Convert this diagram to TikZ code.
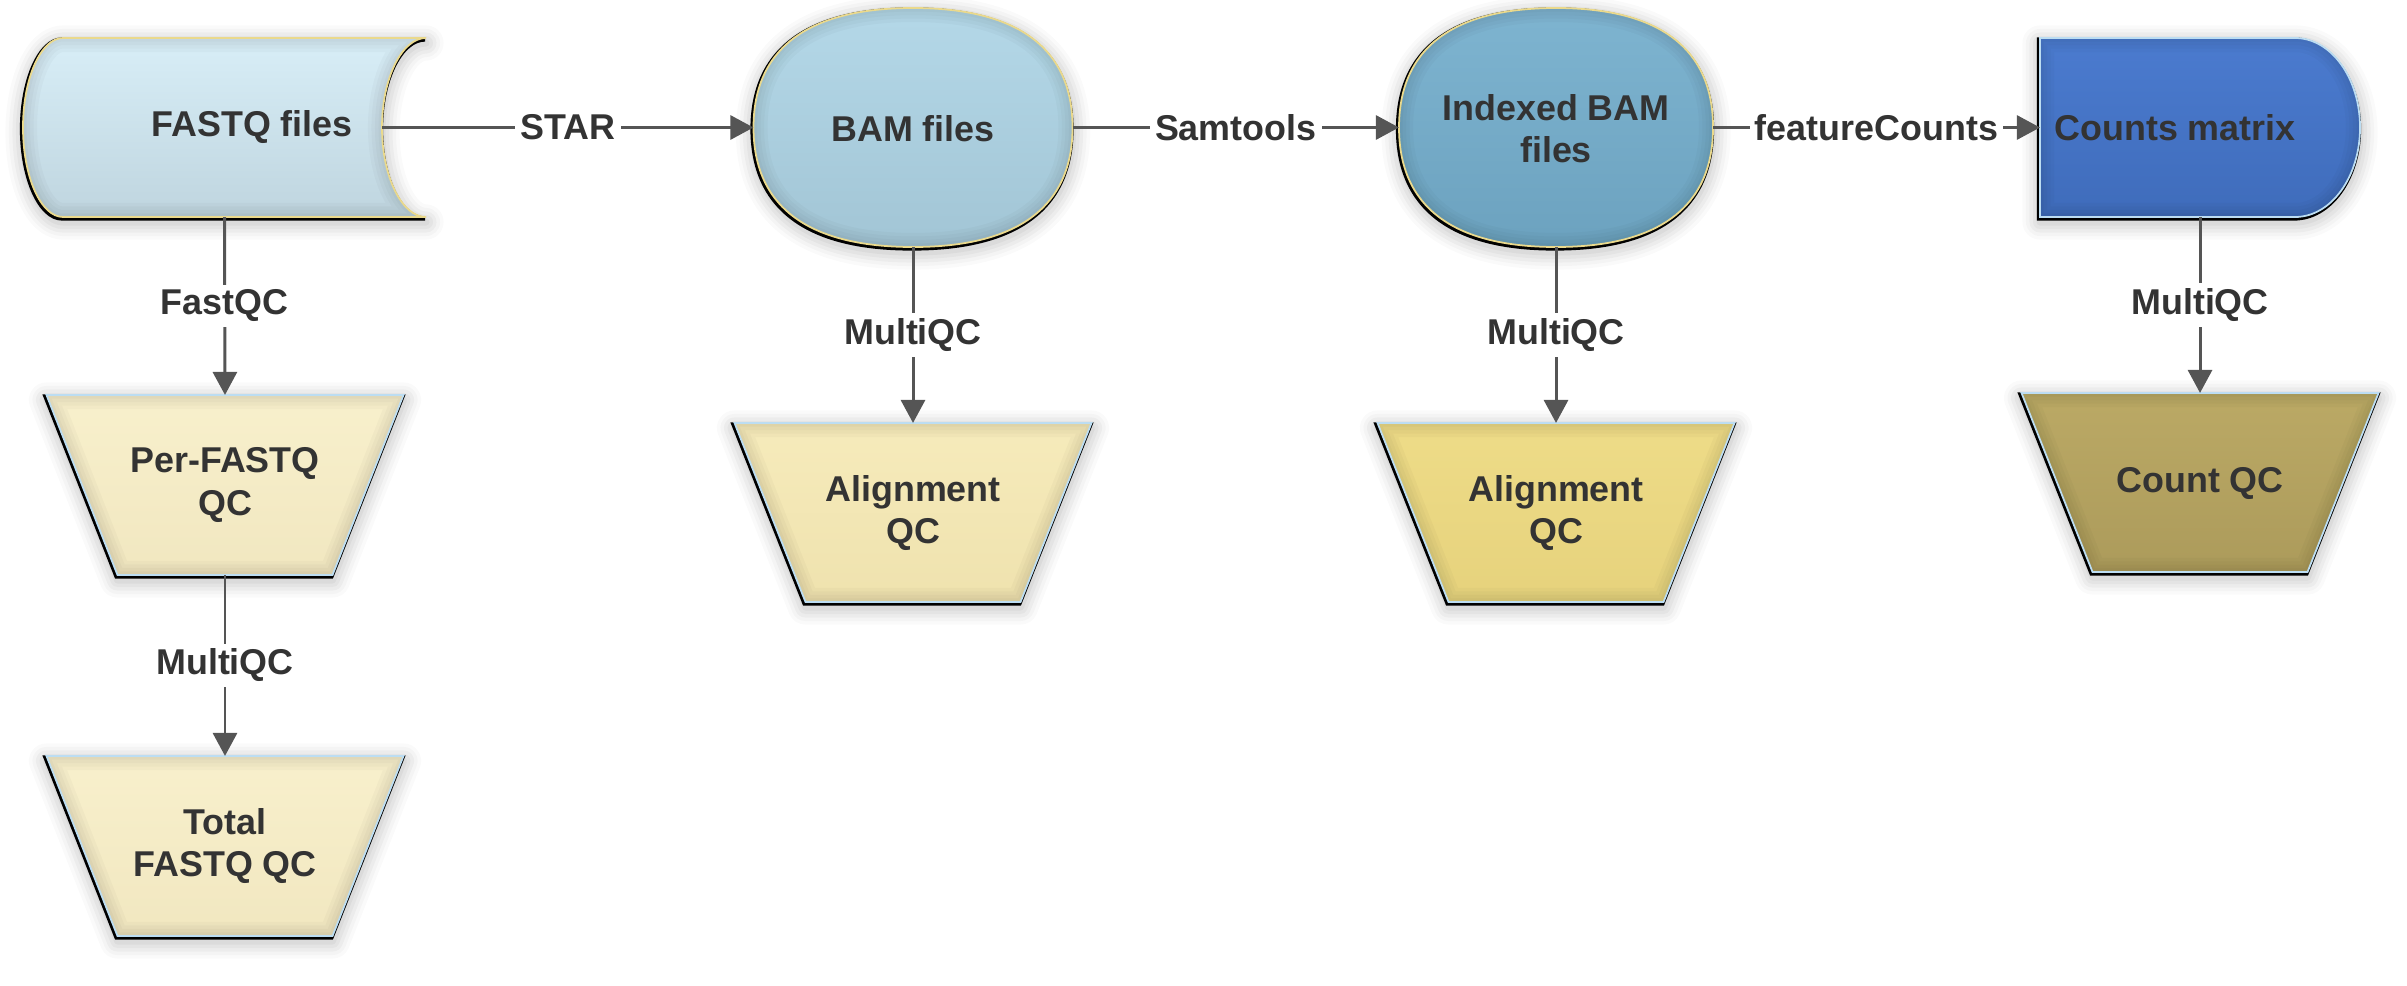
\documentclass[tikz,border=0pt]{standalone}
\usepackage{fontspec}
\setmainfont{Liberation Sans}
\usetikzlibrary{arrows.meta,shapes.geometric}
\definecolor{textC}{HTML}{333333}
\definecolor{lineC}{HTML}{555555}
\definecolor{fqTop}{HTML}{D8EEF7}
\definecolor{fqBot}{HTML}{BFD5DF}
\definecolor{bamTop}{HTML}{B4D8E8}
\definecolor{bamBot}{HTML}{A2C5D5}
\definecolor{idxTop}{HTML}{7EB4D0}
\definecolor{idxBot}{HTML}{6CA2BF}
\definecolor{cntTop}{HTML}{4B7BCF}
\definecolor{cntBot}{HTML}{3F6CBB}
\definecolor{pfqTop}{HTML}{F8F0CC}
\definecolor{pfqBot}{HTML}{F1E7C0}
\definecolor{al1Top}{HTML}{F6EBBB}
\definecolor{al1Bot}{HTML}{EFE2AE}
\definecolor{al2Top}{HTML}{EEDC88}
\definecolor{al2Bot}{HTML}{E6D27C}
\definecolor{cqTop}{HTML}{BBA965}
\definecolor{cqBot}{HTML}{AC9B5B}
\definecolor{yelEdge}{HTML}{EAD98C}
\definecolor{bluEdge}{HTML}{BCDDF2}

% #1 top colour, #2 bottom colour, #3 light edge colour, #4 path
\newcommand{\decoshape}[4]{%
  \foreach \w/\o in {10/0.02,8/0.025,6/0.03,4/0.035,2/0.04}{%
    \draw[line width=\w pt, black, opacity=\o, line join=round, yshift=-0.05cm] #4;}%
  \draw[line width=1.2pt, black, xshift=-0.01cm, yshift=-0.015cm] #4;
  \fill[top color=#1, bottom color=#2] #4;
  \begin{scope}
    \clip #4;
    \foreach \w in {8,6,4,2}{\draw[line width=\w pt, black, opacity=0.025] #4;}
  \end{scope}
  \draw[line width=0.5pt, #3] #4;
}

\tikzset{
  txt/.style={font=\fontsize{10.2}{12}\selectfont\bfseries, text=textC, align=center, inner sep=0pt},
  hold/.style={draw=none, inner sep=0pt, outer sep=0pt},
  lbl/.style={fill=white, font=\fontsize{10.2}{12}\selectfont\bfseries, text=textC, inner sep=1.5pt},
  conn/.style={draw=lineC, line width=0.85pt, -{Triangle[length=0.23cm,width=0.24cm]}},
}

\begin{document}
\begin{tikzpicture}[x=0.01cm, y=-0.01cm]
\useasboundingbox (0,0) rectangle (2407,985);

% ---- shapes (visuals)
\decoshape{fqTop}{fqBot}{yelEdge}{(63,38) -- (426,38) .. controls (402,38) and (382,78) .. (382,127.5) .. controls (382,177) and (402,217) .. (426,217) -- (63,217) .. controls (41,217) and (23,177) .. (23,127.5) .. controls (23,78) and (41,38) .. (63,38) -- cycle}
\decoshape{bamTop}{bamBot}{yelEdge}{(913,8) .. controls (1018.3,8) and (1072.5,48.6) .. (1072.5,127.5) .. controls (1072.5,206.4) and (1018.3,247) .. (913,247) .. controls (807.7,247) and (753.5,206.4) .. (753.5,127.5) .. controls (753.5,48.6) and (807.7,8) .. (913,8) -- cycle}
\decoshape{idxTop}{idxBot}{yelEdge}{(1556,8) .. controls (1659.6,8) and (1713,48.6) .. (1713,127.5) .. controls (1713,206.4) and (1659.6,247) .. (1556,247) .. controls (1452.4,247) and (1399,206.4) .. (1399,127.5) .. controls (1399,48.6) and (1452.4,8) .. (1556,8) -- cycle}
\decoshape{cntTop}{cntBot}{bluEdge}{(2040,38) -- (2295,38) .. controls (2331,38) and (2360,78) .. (2360,127.5) .. controls (2360,177) and (2331,217) .. (2295,217) -- (2040,217) -- cycle}
\decoshape{pfqTop}{pfqBot}{bluEdge}{(46.5,395) -- (403.5,395) -- (332.5,575) -- (117.5,575) -- cycle}
\decoshape{pfqTop}{pfqBot}{bluEdge}{(46.5,756) -- (403.5,756) -- (332.5,936) -- (117.5,936) -- cycle}
\decoshape{al1Top}{al1Bot}{bluEdge}{(734.5,423) -- (1091.5,423) -- (1020.5,602) -- (805.5,602) -- cycle}
\decoshape{al2Top}{al2Bot}{bluEdge}{(1377.5,423) -- (1734.5,423) -- (1663.5,602) -- (1448.5,602) -- cycle}
\decoshape{cqTop}{cqBot}{bluEdge}{(2021.5,393) -- (2378.5,393) -- (2307.5,572) -- (2092.5,572) -- cycle}

% ---- named holders
\node[hold, minimum width=4.03cm, minimum height=1.79cm] (fastq) at (224.5,127.5) {};
\node[hold, ellipse, minimum width=3.19cm, minimum height=2.39cm] (bam) at (913,127.5) {};
\node[hold, ellipse, minimum width=3.14cm, minimum height=2.39cm] (idx) at (1556,127.5) {};
\node[hold, minimum width=3.20cm, minimum height=1.79cm] (cnt) at (2200,127.5) {};
\node[hold, minimum width=3.57cm, minimum height=1.80cm] (pfq) at (225,485) {};
\node[hold, minimum width=3.57cm, minimum height=1.80cm] (tot) at (225,846) {};
\node[hold, minimum width=3.57cm, minimum height=1.79cm] (al1) at (913,512.5) {};
\node[hold, minimum width=3.57cm, minimum height=1.79cm] (al2) at (1556,512.5) {};
\node[hold, minimum width=3.57cm, minimum height=1.79cm] (cq) at (2200,482.5) {};

% ---- texts
\node[txt] (fastqT) at (252,127.5) {FASTQ files};
\node[txt] (bamT) at (913,129) {BAM files};
\node[txt] (idxT) at (1556,129) {Indexed BAM\\files};
\node[txt] (cntT) at (2175,127.5) {Counts matrix};
\node[txt] (pfqT) at (225,485) {Per-FASTQ\\QC};
\node[txt] (totT) at (225,846) {Total\\FASTQ QC};
\node[txt] (al1T) at (913,513) {Alignment\\QC};
\node[txt] (al2T) at (1556,513) {Alignment\\QC};
\node[txt] (cqT) at (2200,483) {Count QC};

% ---- connectors
\draw[conn] ([xshift=-0.44cm]fastq.east) -- node[lbl] {STAR} (bam.west);
\draw[conn] (bam.east) -- node[lbl] {Samtools} (idx.west);
\draw[conn] (idx.east) -- node[lbl] {featureCounts} (cnt.west);
\draw[conn] (fastq.south) -- node[lbl] {FastQC} (pfq.north);
\draw[conn] (pfq.south) -- node[lbl] {MultiQC} (tot.north);
\draw[conn] (bam.south) -- node[lbl] {MultiQC} (al1.north);
\draw[conn] (idx.south) -- node[lbl] {MultiQC} (al2.north);
\draw[conn] (cnt.south) -- node[lbl] {MultiQC} (cq.north);
\end{tikzpicture}
\end{document}
